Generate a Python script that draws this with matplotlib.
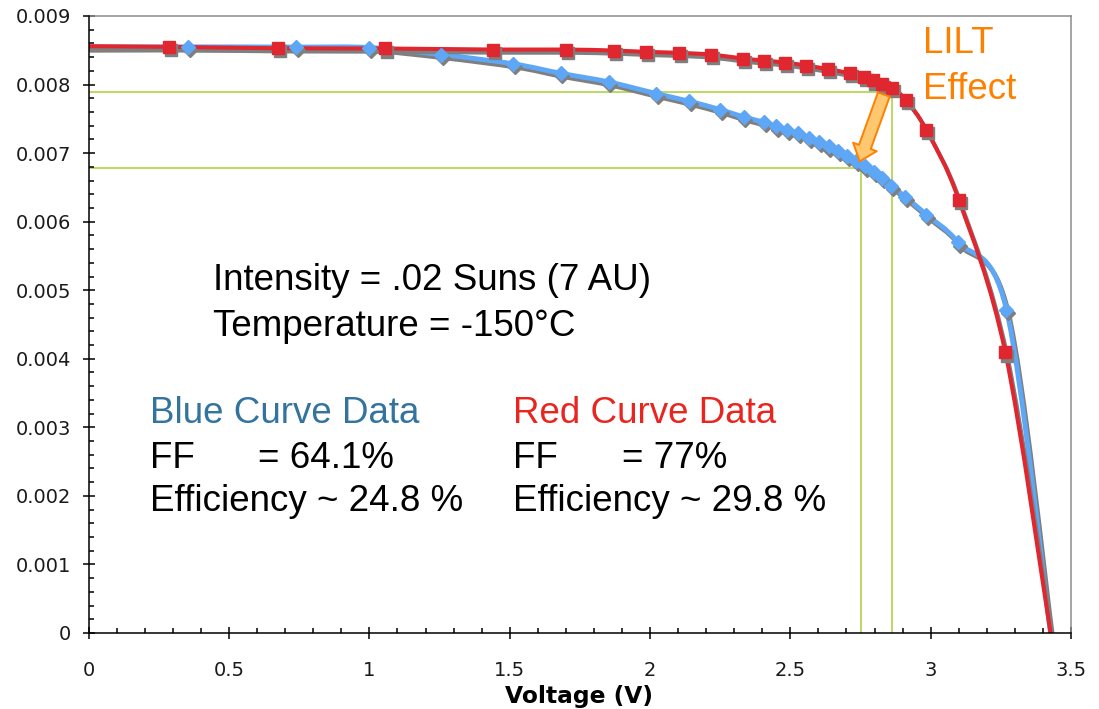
import numpy as np
import matplotlib
matplotlib.use('Agg')
import matplotlib.pyplot as plt
from matplotlib.path import Path
from matplotlib.patches import PathPatch, FancyArrowPatch
from matplotlib.transforms import ScaledTranslation
from matplotlib.ticker import MultipleLocator, FuncFormatter

# I-V curves, voltage in V, current in A
blue_v = [0.0, 0.352, 0.739, 0.999, 1.256, 1.513, 1.681, 1.852, 2.022, 2.140,
          2.250, 2.333, 2.407, 2.450, 2.488, 2.527, 2.565, 2.601, 2.636, 2.670,
          2.702, 2.735, 2.767, 2.798, 2.826, 2.859, 2.910, 2.985, 3.098, 3.270,
          3.427]
blue_i = [8.547, 8.550, 8.547, 8.540, 8.438, 8.302, 8.165, 8.039, 7.869, 7.756,
          7.635, 7.528, 7.450, 7.391, 7.343, 7.289, 7.222, 7.158, 7.099, 7.036,
          6.964, 6.891, 6.807, 6.730, 6.638, 6.526, 6.361, 6.102, 5.698, 4.715,
          0.0]
red_v = [0.0, 0.287, 0.673, 1.057, 1.441, 1.701, 1.873, 1.986, 2.102, 2.216,
         2.331, 2.407, 2.482, 2.557, 2.634, 2.711, 2.762, 2.795, 2.827, 2.862,
         2.913, 2.985, 3.100, 3.266, 3.427]
red_i = [8.560, 8.550, 8.530, 8.526, 8.511, 8.511, 8.496, 8.477, 8.463, 8.438,
         8.380, 8.350, 8.321, 8.277, 8.226, 8.165, 8.109, 8.061, 8.015, 7.952,
         7.771, 7.333, 6.321, 4.092, 0.0]
blue_i = [v * 1e-3 for v in blue_i]
red_i = [v * 1e-3 for v in red_i]

# max power guide lines (V, I)
guide_red = (2.862, 7.888e-3)
guide_blue = (2.750, 6.790e-3)

BLUE = '#5EA7F7'
RED = '#E0262E'
SHADOW = '#7F7F7F'
GREEN = '#A9CF38'
ORANGE = '#FF8000'


def smooth_path(x, y):
    # excel-like smoothed line (catmull-rom as cubic bezier)
    pts = np.column_stack([x, y])
    n = len(pts)
    verts = [pts[0]]
    codes = [Path.MOVETO]
    for k in range(n - 1):
        p0 = pts[max(k - 1, 0)]
        p1, p2 = pts[k], pts[k + 1]
        p3 = pts[min(k + 2, n - 1)]
        verts += [p1 + (p2 - p0) / 6, p2 - (p3 - p1) / 6, p2]
        codes += [Path.CURVE4] * 3
    return Path(verts, codes)


fig = plt.figure(figsize=(10.99, 7.09), dpi=100)
W, H = 1099, 709
ax = fig.add_axes([88.8 / W, 1 - 633 / H, (1071 - 88.8) / W, (633 - 16) / H])

shadow = ax.transData + ScaledTranslation(1.4 / 72, -2.3 / 72, fig.dpi_scale_trans)

# guide lines
for gv, gi in (guide_red, guide_blue):
    ax.plot([0, gv, gv], [gi, gi, 0], color=GREEN, lw=1.1, zorder=1.5)

# lines
for (vv, ii, col, lw, z) in ((blue_v, blue_i, BLUE, 3.5, 2.0),
                             (red_v, red_i, RED, 2.9, 2.2)):
    p = smooth_path(vv, ii)
    ax.add_patch(PathPatch(p, fill=False, ec=SHADOW, lw=lw, transform=shadow,
                           zorder=z, capstyle='round', joinstyle='round'))
    ax.add_patch(PathPatch(p, fill=False, ec=col, lw=lw, zorder=z + 0.1,
                           capstyle='round', joinstyle='round'))

# markers
ax.plot(blue_v[1:-1], blue_i[1:-1], ls='none', marker='D', ms=7.4, mfc=SHADOW,
        mec=SHADOW, transform=shadow, zorder=3.0)
ax.plot(blue_v[1:-1], blue_i[1:-1], ls='none', marker='D', ms=7.4, mfc=BLUE,
        mec=BLUE, zorder=3.1)
ax.plot(red_v[1:-1], red_i[1:-1], ls='none', marker='s', ms=9.2, mfc=SHADOW,
        mec=SHADOW, transform=shadow, zorder=3.2)
ax.plot(red_v[1:-1], red_i[1:-1], ls='none', marker='s', ms=9.2, mfc=RED,
        mec=RED, zorder=3.3)

# LILT arrow
arrow = FancyArrowPatch((2.833, 7.854e-3), (2.747, 6.880e-3),
                        arrowstyle='simple,head_length=1.1,head_width=1.8,tail_width=0.9',
                        mutation_scale=10, fc='#FFC870', ec=ORANGE, lw=1.4,
                        shrinkA=0, shrinkB=0, zorder=4)
ax.add_patch(arrow)

ax.set_xlim(0, 3.5)
ax.set_ylim(0, 0.009)
ax.xaxis.set_major_locator(MultipleLocator(0.5))
ax.xaxis.set_minor_locator(MultipleLocator(0.1))
ax.yaxis.set_major_locator(MultipleLocator(0.001))
ax.yaxis.set_minor_locator(MultipleLocator(0.0002))
ax.xaxis.set_major_formatter(FuncFormatter(lambda v, _: f'{v:g}'))
ax.yaxis.set_major_formatter(FuncFormatter(lambda v, _: '0' if abs(v) < 1e-12 else f'{v:.3f}'))
ax.tick_params(which='major', direction='inout', length=8.6, width=1.1,
               labelsize=14, labelcolor='#1a1a1a')
ax.tick_params(axis='x', which='major', pad=15.9)
ax.tick_params(axis='y', which='major', pad=8.3)
ax.tick_params(which='minor', direction='in', length=3.6, width=1.1)
for s in ('left', 'bottom'):
    ax.spines[s].set_color('black')
    ax.spines[s].set_linewidth(1.1)
    ax.spines[s].set_zorder(5)
for s in ('top', 'right'):
    ax.spines[s].set_color('#8C8C8C')
    ax.spines[s].set_linewidth(1.1)

fig.text(579 / W, 1 - 703 / H, 'Voltage (V)', ha='center', va='baseline',
         fontsize=16.8, fontweight='bold')

# annotation text
FONT = 'Liberation Sans'
FS = 26.5


def ptext(x, y, s, color='black'):
    fig.text(x / W, 1 - y / H, s, ha='left', va='baseline', fontsize=FS,
             family=FONT, color=color)


ptext(213, 290, 'Intensity = .02 Suns (7 AU)')
ptext(213, 336, 'Temperature = -150°C')
ptext(150, 423, 'Blue Curve Data', '#33749F')
ptext(150, 468, 'FF')
ptext(258, 468, '= 64.1%')
ptext(150, 511, 'Efficiency ~ 24.8 %')
ptext(513, 423, 'Red Curve Data', '#E8251F')
ptext(513, 468, 'FF')
ptext(622, 468, '= 77%')
ptext(513, 511, 'Efficiency ~ 29.8 %')
ptext(923, 53, 'LILT', ORANGE)
ptext(923, 99, 'Effect', ORANGE)

fig.savefig('out.png', dpi=100)
